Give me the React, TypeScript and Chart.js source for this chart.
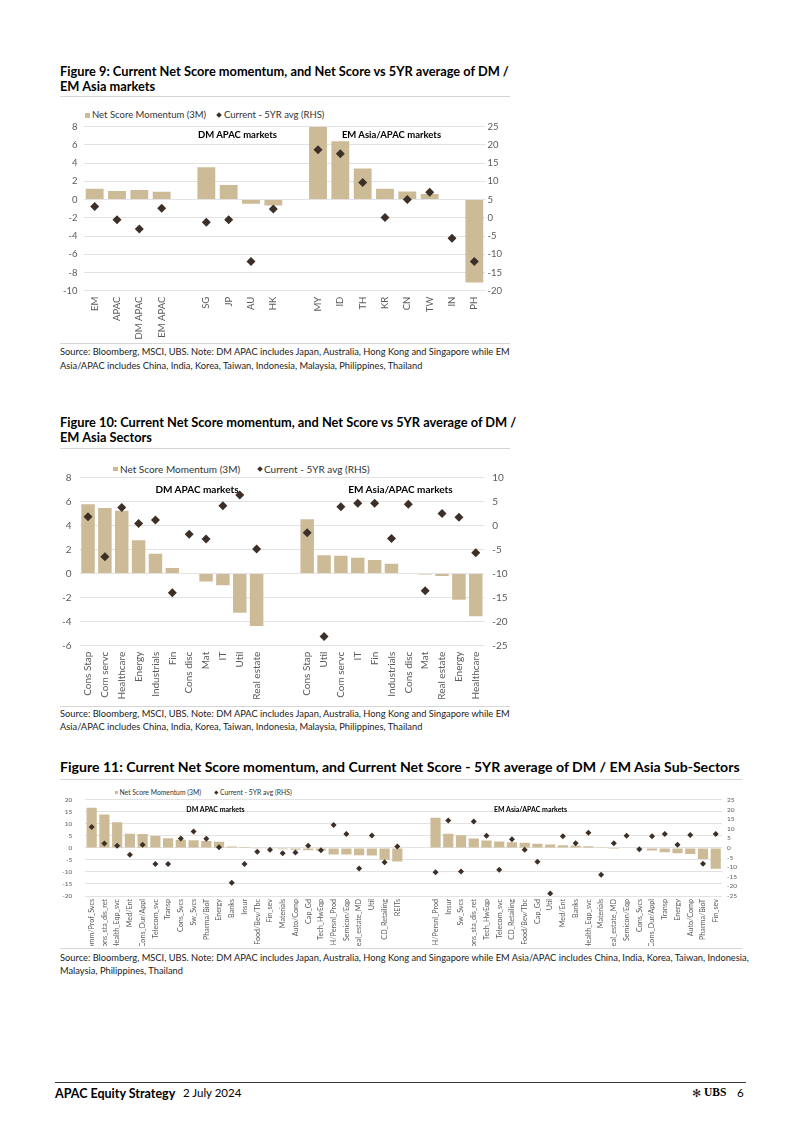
import React, { useEffect, useRef } from "react";
import { Chart, registerables } from "chart.js";

Chart.register(...registerables);

// ---------------- Figure 9 data ----------------
const fig9Categories = ["EM", "APAC", "DM APAC", "EM APAC", "", "SG", "JP", "AU", "HK", "", "MY", "ID", "TH", "KR", "CN", "TW", "IN", "PH"];
const fig9Momentum = [1.2, 0.95, 1.05, 0.85, null, 3.55, 1.6, -0.45, -0.65, null, 8.0, 6.4, 3.4, 1.2, 0.9, 0.6, 0.07, -9.1];
const fig9VsAvg = [3.1, -0.5, -3.1, 2.6, null, -1.2, -0.5, -12.0, 2.4, null, 18.7, 17.6, 9.7, 0.1, 5.0, 7.0, -5.6, -12.0];
const fig9LeftTicks = [8, 6, 4, 2, 0, -2, -4, -6, -8, -10];
const fig9RightTicks = [25, 20, 15, 10, 5, 0, -5, -10, -15, -20];

// ---------------- Figure 10 data ----------------
const fig10Categories = [
  "Cons Stap", "Com servc", "Healthcare", "Energy", "Industrials", "Fin", "Cons disc", "Mat", "IT", "Util", "Real estate",
  "", "",
  "Cons Stap", "Util", "Com servc", "IT", "Fin", "Industrials", "Cons disc", "Mat", "Real estate", "Energy", "Healthcare",
];
const fig10Momentum = [5.75, 5.45, 5.22, 2.77, 1.65, 0.47, 0, -0.67, -0.98, -3.27, -4.36, null, null, 4.52, 1.51, 1.48, 1.31, 1.12, 0.81, 0, -0.08, -0.2, -2.18, -3.55];
const fig10VsAvg = [1.8, -6.5, 3.7, 0.4, 1.1, -14.0, -1.85, -2.8, 4.1, 6.3, -4.9, null, null, -1.5, -23.1, 3.9, 4.6, 4.6, -2.7, 4.4, -13.6, 2.5, 1.7, -5.7];
const fig10LeftTicks = [8, 6, 4, 2, 0, -2, -4, -6];
const fig10RightTicks = [10, 5, 0, -5, -10, -15, -20, -25];

// ---------------- Figure 11 data ----------------
const fig11Categories = [
  "Comm/Prof_Svcs", "Cons_sta_dis_ret", "Health_Eqp_svc", "Med/Ent", "Cons_Dur/Appl", "Telecom_svc", "Transp", "Cons_Svcs", "Sw_Svcs", "Pharma/BioT",
  "Energy", "Banks", "Insur", "Food/Bev/Tbc", "Fin_sev", "Materials", "Auto/Comp", "Cap_Gd", "Tech_HwEqp", "HH/Persnl_Prod",
  "Semicon/Eqp", "Real_estate_MD", "Util", "CD_Retailing", "REITs",
  "", "",
  "HH/Persnl_Prod", "Insur", "Sw_Svcs", "Cons_sta_dis_ret", "Tech_HwEqp", "Telecom_svc", "CD_Retailing", "Food/Bev/Tbc", "Cap_Gd", "Util",
  "Med/Ent", "Banks", "Health_Eqp_svc", "Materials", "Real_estate_MD", "Semicon/Eqp", "Cons_Svcs", "Cons_Dur/Appl", "Transp", "Energy",
  "Auto/Comp", "Pharma/BioT", "Fin_sev",
];
const fig11Momentum = [
  16.7, 13.9, 10.7, 5.9, 5.85, 5.0, 4.0, 3.45, 3.25, 2.9,
  2.6, 0.65, 0.35, -0.1, -0.3, -0.55, -0.8, -1.0, -1.1, -2.7,
  -2.7, -3.0, -3.1, -4.9, -5.6,
  null, null,
  12.6, 5.9, 5.3, 3.9, 3.1, 2.7, 2.4, 2.2, 1.7, 1.4,
  1.1, 1.0, 0.7, 0.05, -0.05, -0.2, -0.1, -1.1, -1.8, -2.2,
  -2.5, -4.6, -8.7,
];
const fig11VsAvg = [
  10.9, 2.3, 1.1, -3.5, 1.7, -8.3, -8.3, 4.9, 8.5, 4.8,
  0.4, -18.1, -8.3, -2.0, -1.0, -2.7, -2.4, 1.2, -1.2, 11.9,
  7.3, -10.7, 6.5, -7.5, 0.7,
  null, null,
  -12.7, 14.3, -12.2, 13.8, 6.3, -11.3, 4.5, -0.9, -7.2, -23.7,
  6.1, 2.4, 7.9, -14.0, 2.4, 6.3, -0.7, 6.1, 7.3, 1.7,
  6.8, -8.2, 7.3,
];
const fig11LeftTicks = [20, 15, 10, 5, 0, -5, -10, -15, -20];
const fig11RightTicks = [25, 20, 15, 10, 5, 0, -5, -10, -15, -20, -25];

const seriesNames = ["Net Score Momentum (3M)", "Current - 5YR avg (RHS)"];

// ---------------- styles ----------------
const TAN = "#cdbb97";
const DARK = "#3b2f27";
const GRID = "#e2e2e2";
const TICK = "#5a5a5a";
const FONT = "Lato, 'Noto Sans', sans-serif";

Chart.defaults.font.family = FONT;

type Spec = {
  x: number; y: number; w: number; h: number;
  plot: { l: number; t: number; r: number; b: number };
  labels: string[];
  bars: (number | null)[];
  points: (number | null)[];
  left: number[];
  right: number[];
  tickFont: number; xFont: number;
  leftPad: number; rightPad: number; xPad: number;
  barPct: number; radius: number;
};

function range(t: number[]) {
  return { min: Math.min(...t), max: Math.max(...t), step: Math.abs(t[0] - t[1]) };
}

function MixedChart({ spec }: { spec: Spec }) {
  const ref = useRef<HTMLCanvasElement>(null);
  useEffect(() => {
    const L = range(spec.left);
    const R = range(spec.right);
    const chart = new Chart(ref.current as HTMLCanvasElement, {
      type: "bar",
      data: {
        labels: spec.labels,
        datasets: [
          {
            type: "bar",
            label: seriesNames[0],
            data: spec.bars as any,
            backgroundColor: TAN,
            barPercentage: spec.barPct,
            categoryPercentage: 1,
            yAxisID: "y",
            order: 1,
          } as any,
          {
            type: "line",
            label: seriesNames[1],
            data: spec.points as any,
            showLine: false,
            pointStyle: "rectRot",
            pointRadius: spec.radius,
            pointBackgroundColor: DARK,
            pointBorderColor: DARK,
            pointBorderWidth: 0,
            yAxisID: "y2",
            order: 0,
          } as any,
        ],
      },
      options: {
        responsive: false,
        animation: false,
        devicePixelRatio: 1,
        layout: { padding: { top: spec.plot.t, left: 0, right: 0, bottom: 0 } },
        plugins: { legend: { display: false }, tooltip: { enabled: false } },
        scales: {
          x: {
            grid: { display: false, drawTicks: false },
            border: { display: false },
            ticks: {
              autoSkip: false,
              minRotation: 90,
              maxRotation: 90,
              padding: spec.xPad,
              color: TICK,
              font: { size: spec.xFont, family: FONT },
            },
            afterFit: (s: any) => { s.height = spec.h - spec.plot.b; },
          },
          y: {
            position: "left",
            min: L.min,
            max: L.max,
            ticks: { stepSize: L.step, autoSkip: false, padding: spec.leftPad, color: TICK, font: { size: spec.tickFont, family: FONT } },
            grid: { color: GRID, drawTicks: false, lineWidth: 1 },
            border: { display: false },
            afterFit: (s: any) => { s.width = spec.plot.l; },
          },
          y2: {
            position: "right",
            min: R.min,
            max: R.max,
            ticks: { stepSize: R.step, autoSkip: false, padding: spec.rightPad, color: TICK, font: { size: spec.tickFont, family: FONT } },
            grid: { drawOnChartArea: false, drawTicks: false },
            border: { display: false },
            afterFit: (s: any) => { s.width = spec.w - spec.plot.r; },
          },
        } as any,
      },
    });
    return () => chart.destroy();
  }, []);
  return (
    <canvas
      ref={ref}
      width={spec.w}
      height={spec.h}
      style={{ position: "absolute", left: spec.x, top: spec.y, width: spec.w, height: spec.h }}
    />
  );
}

function Txt(props: { x: number; y: number; size: number; bold?: boolean; color?: string; center?: boolean; family?: string; children: React.ReactNode }) {
  const lh = props.size * 1.2;
  return (
    <div
      style={{
        position: "absolute",
        left: props.x,
        top: props.y - lh / 2,
        fontSize: props.size,
        lineHeight: lh + "px",
        fontWeight: props.bold ? 700 : 400,
        color: props.color || "#000",
        whiteSpace: "nowrap",
        fontFamily: props.family || FONT,
        transform: props.center ? "translateX(-50%)" : undefined,
      }}
    >
      {props.children}
    </div>
  );
}

function HLine({ x1, x2, y, color }: { x1: number; x2: number; y: number; color: string }) {
  return <div style={{ position: "absolute", left: x1, top: y, width: x2 - x1, height: 1, background: color }} />;
}

function Legend(p: { y: number; sw: number; swSize: number; t1: number; dx: number; dSize: number; t2: number; size: number }) {
  return (
    <>
      <div style={{ position: "absolute", left: p.sw, top: p.y - p.swSize / 2, width: p.swSize, height: p.swSize, background: TAN }} />
      <Txt x={p.t1} y={p.y} size={p.size} color="#333">{seriesNames[0]}</Txt>
      <div
        style={{
          position: "absolute",
          left: p.dx - p.dSize / 2,
          top: p.y - p.dSize / 2,
          width: p.dSize,
          height: p.dSize,
          background: DARK,
          transform: "rotate(45deg)",
        }}
      />
      <Txt x={p.t2} y={p.y} size={p.size} color="#333">{seriesNames[1]}</Txt>
    </>
  );
}

const fig9Spec: Spec = {
  x: 60, y: 104, w: 450, h: 238,
  plot: { l: 23.5, t: 22.7, r: 425.5, b: 186.7 },
  labels: fig9Categories, bars: fig9Momentum, points: fig9VsAvg,
  left: fig9LeftTicks, right: fig9RightTicks,
  tickFont: 9.5, xFont: 9.5, leftPad: 6, rightPad: 2, xPad: 6,
  barPct: 0.8, radius: 4.5,
};

const fig10Spec: Spec = {
  x: 60, y: 458, w: 450, h: 246,
  plot: { l: 19.6, t: 19.3, r: 424.2, b: 187.7 },
  labels: fig10Categories, bars: fig10Momentum, points: fig10VsAvg,
  left: fig10LeftTicks, right: fig10RightTicks,
  tickFont: 10, xFont: 10, leftPad: 8, rightPad: 8, xPad: 6,
  barPct: 0.8, radius: 4.5,
};

const fig11Spec: Spec = {
  x: 60, y: 783, w: 682, h: 163,
  plot: { l: 25.3, t: 15.3, r: 662.1, b: 113 },
  labels: fig11Categories, bars: fig11Momentum, points: fig11VsAvg,
  left: fig11LeftTicks, right: fig11RightTicks,
  tickFont: 6.5, xFont: 7.2, leftPad: 13, rightPad: 5, xPad: 3,
  barPct: 0.8, radius: 3,
};

const src1 = "Source: Bloomberg, MSCI, UBS. Note: DM APAC includes Japan, Australia, Hong Kong and Singapore while EM";
const src2 = "Asia/APAC includes China, India, Korea, Taiwan, Indonesia, Malaysia, Philippines, Thailand";

export default function App() {
  return (
    <div style={{ position: "absolute", left: 0, top: 0, width: 802, height: 1134, background: "#fff", fontFamily: FONT }}>
      {/* Figure 9 */}
      <Txt x={60} y={72} size={12.8} bold>Figure 9: Current Net Score momentum, and Net Score vs 5YR average of DM /</Txt>
      <Txt x={60} y={87} size={12.8} bold>EM Asia markets</Txt>
      <HLine x1={60} x2={510} y={96} color="#d6d6d6" />
      <Legend y={115} sw={85} swSize={5} t1={92} dx={219} dSize={4} t2={224} size={9.5} />
      <MixedChart spec={fig9Spec} />
      <Txt x={237.5} y={135} size={9.5} bold center>DM APAC markets</Txt>
      <Txt x={391.5} y={135} size={9.5} bold center>EM Asia/APAC markets</Txt>
      <HLine x1={60} x2={510} y={343} color="#d6d6d6" />
      <Txt x={60} y={352} size={9.3} color="#222">{src1}</Txt>
      <Txt x={60} y={366} size={9.3} color="#222">{src2}</Txt>

      {/* Figure 10 */}
      <Txt x={60} y={423} size={12.8} bold>Figure 10: Current Net Score momentum, and Net Score vs 5YR average of DM /</Txt>
      <Txt x={60} y={438} size={12.8} bold>EM Asia Sectors</Txt>
      <HLine x1={60} x2={510} y={448} color="#d6d6d6" />
      <Legend y={469} sw={113} swSize={4.5} t1={120} dx={259.5} dSize={4} t2={264} size={10} />
      <MixedChart spec={fig10Spec} />
      <Txt x={197} y={489} size={10} bold center>DM APAC markets</Txt>
      <Txt x={400.5} y={489} size={10} bold center>EM Asia/APAC markets</Txt>
      <HLine x1={60} x2={510} y={706} color="#d6d6d6" />
      <Txt x={60} y={714} size={9.3} color="#222">{src1}</Txt>
      <Txt x={60} y={727} size={9.3} color="#222">{src2}</Txt>

      {/* Figure 11 */}
      <Txt x={60} y={767} size={14.1} bold>Figure 11: Current Net Score momentum, and Current Net Score - 5YR average of DM / EM Asia Sub-Sectors</Txt>
      <HLine x1={60} x2={742} y={779} color="#d6d6d6" />
      <Legend y={792} sw={115} swSize={3} t1={119.5} dx={216.5} dSize={2.6} t2={220} size={6.8} />
      <MixedChart spec={fig11Spec} />
      <Txt x={215.5} y={809} size={7} bold center>DM APAC markets</Txt>
      <Txt x={530.5} y={809} size={7} bold center>EM Asia/APAC markets</Txt>
      <HLine x1={60} x2={742} y={948} color="#d6d6d6" />
      <Txt x={60} y={958} size={9.3} color="#222">
        Source: Bloomberg, MSCI, UBS. Note: DM APAC includes Japan, Australia, Hong Kong and Singapore while EM Asia/APAC includes China, India, Korea, Taiwan, Indonesia,
      </Txt>
      <Txt x={60} y={971} size={9.3} color="#222">Malaysia, Philippines, Thailand</Txt>

      {/* Footer */}
      <HLine x1={55} x2={746} y={1082} color="#3a3a3a" />
      <Txt x={55} y={1093} size={12.5} bold>APAC Equity Strategy</Txt>
      <Txt x={183} y={1093} size={11.5}>2 July 2024</Txt>
      <Txt x={692} y={1093} size={10.5} color="#222">✻</Txt>
      <Txt x={704} y={1093} size={11.5} bold family="'Liberation Serif', serif">UBS</Txt>
      <Txt x={737} y={1093} size={11.5}>6</Txt>
    </div>
  );
}
